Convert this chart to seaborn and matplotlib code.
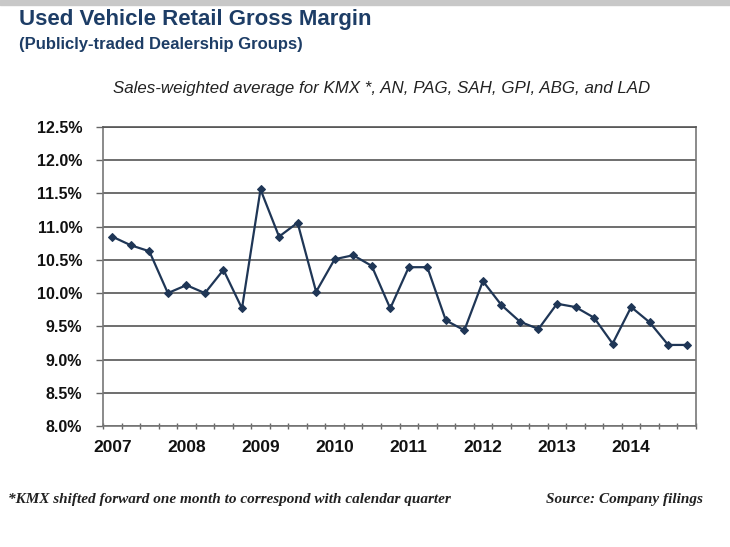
import matplotlib
matplotlib.use("Agg")
import matplotlib.pyplot as plt
import seaborn as sns
import pandas as pd
import numpy as np
from matplotlib.ticker import FixedLocator, FuncFormatter

quarters = [f"{y} Q{q}" for y in range(2007, 2015) for q in range(1, 5)]
margin_pct = [10.85, 10.72, 10.63, 10.00, 10.12, 10.00, 10.35, 9.77,
              11.56, 10.85, 11.06, 10.02, 10.51, 10.57, 10.41, 9.77,
              10.39, 10.39, 9.59, 9.44, 10.18, 9.82, 9.57, 9.46,
              9.84, 9.79, 9.63, 9.24, 9.79, 9.56, 9.22, 9.22]
year_labels = ["2007", "2008", "2009", "2010", "2011", "2012", "2013", "2014"]
y_ticks = [8.0, 8.5, 9.0, 9.5, 10.0, 10.5, 11.0, 11.5, 12.0, 12.5]

df = pd.DataFrame({"idx": np.arange(len(quarters)), "quarter": quarters, "margin": margin_pct})

sns.set_theme(style="white")
plt.rcParams["font.family"] = ["Liberation Sans", "DejaVu Sans"]

fig = plt.figure(figsize=(7.3, 5.47), dpi=100)
fig.patch.set_facecolor("white")
ax = fig.add_axes([103/730, 1-426/547, (696-103)/730, (426-127)/547])

navy = "#1f3656"
sns.lineplot(data=df, x="idx", y="margin", ax=ax, color=navy, linewidth=1.6,
             marker="D", markersize=4.5, markeredgecolor=navy, markerfacecolor=navy)

ax.set_xlim(-0.5, len(quarters) - 0.5)
ax.set_ylim(8.0, 12.5)
ax.set_xlabel("")
ax.set_ylabel("")

ax.yaxis.set_major_locator(FixedLocator(y_ticks))
ax.yaxis.set_major_formatter(FuncFormatter(lambda v, p: f"{v:.1f}%"))
ax.grid(axis="y", color="#555555", linewidth=1.2)
ax.set_axisbelow(True)

ax.xaxis.set_major_locator(FixedLocator(list(range(0, len(quarters), 4))))
ax.set_xticklabels(year_labels)
ax.xaxis.set_minor_locator(FixedLocator(list(np.arange(-0.5, len(quarters), 1.0))))
ax.tick_params(axis="x", which="major", length=0, pad=10)
ax.tick_params(axis="x", which="minor", length=5, direction="inout", color="#666666", width=1, bottom=True)
ax.tick_params(axis="y", which="major", length=5, direction="out", color="#666666", width=1, left=True, pad=10)

for lbl in ax.get_yticklabels():
    lbl.set_fontweight("bold")
    lbl.set_fontsize(11.5)
    lbl.set_color("#111111")
for lbl in ax.get_xticklabels():
    lbl.set_fontweight("bold")
    lbl.set_fontsize(12.5)
    lbl.set_color("#111111")

for side in ["left", "right", "bottom", "top"]:
    ax.spines[side].set_visible(True)
    ax.spines[side].set_color("#777777")
    ax.spines[side].set_linewidth(1.2)
ax.spines["top"].set_color("#555555")

# top gray band
fig.patches.append(matplotlib.patches.Rectangle((0, 1-5/547), 1, 5/547, transform=fig.transFigure,
                                                color="#c8c8c8", zorder=0))

title_color = "#1d3d66"
fig.text(19/730, 1-20/547, "Used Vehicle Retail Gross Margin", fontsize=16, fontweight="bold",
         color=title_color, va="center", ha="left")
fig.text(19/730, 1-45/547, "(Publicly-traded Dealership Groups)", fontsize=12, fontweight="bold",
         color=title_color, va="center", ha="left")
fig.text(382/730, 1-89/547, "Sales-weighted average for KMX *, AN, PAG, SAH, GPI, ABG, and LAD",
         fontsize=12.2, style="italic", color="#222222", va="center", ha="center")

fig.text(8/730, 1-500/547, "*KMX shifted forward one month to correspond with calendar quarter",
         fontsize=11, style="italic", fontweight="bold", family=["Liberation Serif"],
         color="#222222", va="center", ha="left")
fig.text(703/730, 1-500/547, "Source: Company filings",
         fontsize=11, style="italic", fontweight="bold", family=["Liberation Serif"],
         color="#222222", va="center", ha="right")

fig.savefig("out.png", dpi=100)
